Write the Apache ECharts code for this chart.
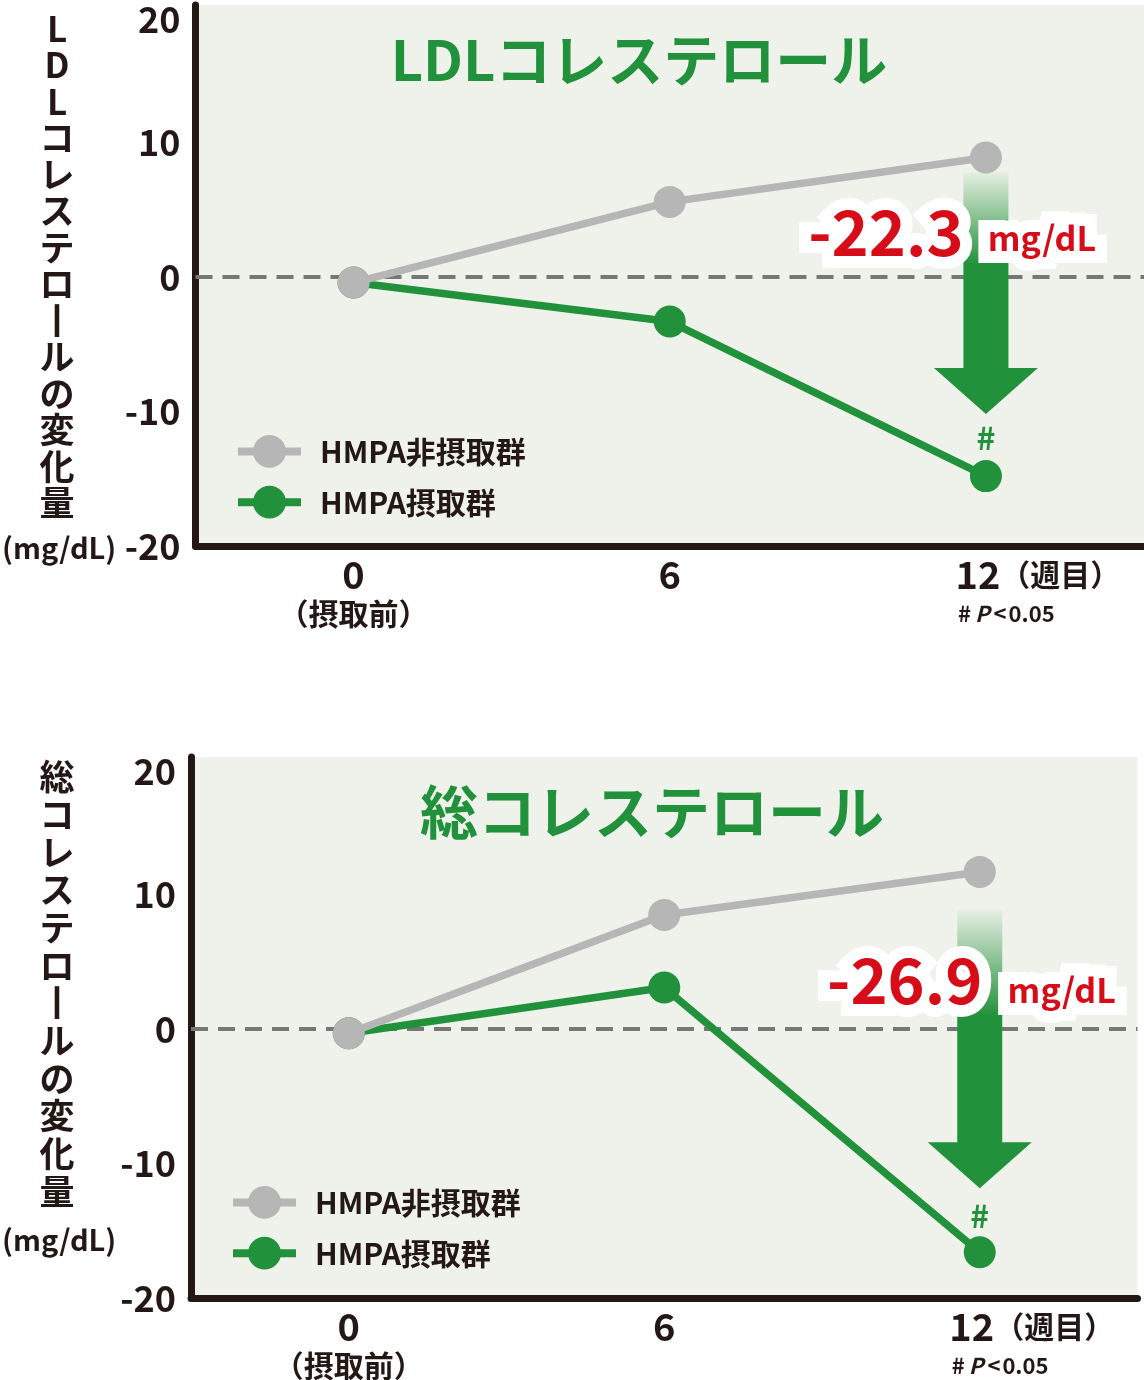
<!DOCTYPE html>
<html>
<head>
<meta charset="utf-8">
<script src="https://cdn.jsdelivr.net/npm/echarts@6/dist/echarts.min.js"></script>
<style>
  html, body { margin: 0; padding: 0; background: #fff; }
  #main { width: 1144px; height: 1380px; }
</style>
</head>
<body>
<div id="main"></div>
<script>
// データ
const weeks = [0, 6, 12];
const ldlNonIntake = [-0.4, 5.6, 8.9];
const ldlIntake = [-0.4, -3.3, -14.8];
const tcNonIntake = [-0.3, 8.5, 11.7];
const tcIntake = [-0.3, 3.1, -16.6];
const seriesNames = ['HMPA非摂取群', 'HMPA摂取群'];
const panelTitles = ['LDLコレステロール', '総コレステロール'];
const yNames = ['LDLコレステロ丨ルの変化量', '総コレステロ丨ルの変化量'];
const diffLabels = ['-22.3', '-26.9'];
const unitLabel = 'mg/dL';
const yUnit = '(mg/dL)';
const xSubLabels = { 0: '（摂取前）', 12: '（週目）' };

const DARK = '#231815';
const GREEN = '#22913b';
const GRAY = '#b5b6b5';
const RED = '#d70c19';
const FONT = '"Noto Sans CJK JP", "Noto Sans", sans-serif';

// レイアウト
const grids = [
  { left: 195.5, top: 5, width: 948.5, height: 541 },
  { left: 191, top: 757, width: 946.5, height: 541 }
];
const panels = [
  { non: ldlNonIntake, hmpa: ldlIntake, legendLeft: 234, legendTop: 435, titleX: 639, titleY: 60, titleSize: 56,
    yNameTop: 10, yNameLh: 36.5, unitY: 548,
    arrowTop: 15, tipGap: 62, diffDx: -100, diffDy: -45, unitDx: 56, unitDy: -39, hashDy: -38 },
  { non: tcNonIntake, hmpa: tcIntake, legendLeft: 229, legendTop: 1186, titleX: 652, titleY: 812, titleSize: 58,
    yNameTop: 758, yNameLh: 37.7, unitY: 1240,
    arrowTop: 38, tipGap: 64, diffDx: -75, diffDy: -49, unitDx: 82, unitDy: -39, hashDy: -36 }
];

function pairs(arr) {
  return weeks.map((w, i) => [w, arr[i]]);
}

const option = {
  animation: false,
  textStyle: { fontFamily: FONT },
  grid: grids.map(g => Object.assign({ show: true, backgroundColor: '#eff2ea', borderWidth: 0, outerBoundsMode: 'none', containLabel: false }, g)),
  xAxis: grids.map((g, i) => ({
    type: 'value', gridIndex: i, min: -3, max: 15, interval: 3,
    axisLine: { show: true, onZero: false, lineStyle: { color: DARK, width: 7 } },
    axisTick: { show: false },
    splitLine: { show: false },
    axisLabel: {
      margin: 9,
      color: DARK,
      fontFamily: FONT,
      formatter: function (v) {
        if (v === 0) return '{n|0}\n{s|' + xSubLabels[0] + '}';
        if (v === 6) return '{n|6}';
        if (v === 12) return '{sp|}{n|12}{s|' + xSubLabels[12] + '}';
        return '';
      },
      rich: {
        n: { fontSize: 38, fontWeight: 'bold', lineHeight: 40, color: DARK, fontFamily: FONT },
        s: { fontSize: 30, fontWeight: 'bold', lineHeight: 38, color: DARK, fontFamily: FONT },
        sp: { width: 104 }
      }
    }
  })),
  yAxis: grids.map((g, i) => ({
    type: 'value', gridIndex: i, min: -20, max: 20.25, interval: 10,
    axisLine: { show: true, onZero: false, lineStyle: { color: DARK, width: 7 } },
    axisTick: { show: false },
    splitLine: { show: false },
    axisLabel: {
      margin: 15,
      color: DARK,
      fontSize: 36,
      fontWeight: 'bold',
      fontFamily: FONT,
      formatter: function (v) {
        if (Math.abs(v - 20) < 1e-6) return '{t|20}';
        return Math.abs(v % 10) < 1e-6 ? String(v) : '';
      },
      rich: {
        t: { fontSize: 36, fontWeight: 'bold', color: DARK, fontFamily: FONT, padding: [22, 0, 0, 0] }
      }
    }
  })),
  legend: panels.map(p => ({
    left: p.legendLeft, top: p.legendTop, orient: 'vertical', padding: 0,
    itemWidth: 63, itemHeight: 41, itemGap: 18,
    selectedMode: false,
    data: seriesNames,
    lineStyle: { width: 8 },
    textStyle: { fontSize: 30, fontWeight: 'bold', color: DARK, fontFamily: FONT, padding: [0, 0, 0, 14] }
  })),
  series: []
};

panels.forEach((p, i) => {
  option.series.push({
    name: seriesNames[1], type: 'line', xAxisIndex: i, yAxisIndex: i,
    data: pairs(p.hmpa), symbol: 'circle', symbolSize: 32,
    lineStyle: { color: GREEN, width: 7.5 }, itemStyle: { color: GREEN },
    emphasis: { disabled: true }, z: 3
  });
  option.series.push({
    name: seriesNames[0], type: 'line', xAxisIndex: i, yAxisIndex: i,
    data: pairs(p.non), symbol: 'circle', symbolSize: 32,
    lineStyle: { color: GRAY, width: 7.5 }, itemStyle: { color: GRAY },
    emphasis: { disabled: true }, z: 4,
    markLine: {
      silent: true, symbol: ['none', 'none'], label: { show: false },
      lineStyle: { color: '#777', width: 4, type: [17, 10] },
      data: [{ yAxis: 0 }], z: 1
    }
  });
});

const chartDom = document.getElementById('main');
const myChart = echarts.init(chartDom);
myChart.setOption(option);

// 注釈（矢印・差分・タイトル）
const graphics = [];
panels.forEach((p, i) => {
  const gi = { gridIndex: i };
  const nonPt = myChart.convertToPixel(gi, [weeks[2], p.non[2]]);
  const hmpaPt = myChart.convertToPixel(gi, [weeks[2], p.hmpa[2]]);
  const zeroPt = myChart.convertToPixel(gi, [weeks[2], 0]);
  const axisPt = myChart.convertToPixel(gi, [weeks[2], -20]);
  const x = nonPt[0];
  const top = nonPt[1] + p.arrowTop;
  const tip = hmpaPt[1] - p.tipGap;
  const sw = 22.5, hw = 52, hh = 46;

  graphics.push({
    type: 'polygon', z: 100,
    shape: { points: [[x - sw, top], [x + sw, top], [x + sw, tip - hh], [x + hw, tip - hh], [x, tip], [x - hw, tip - hh], [x - sw, tip - hh]] },
    style: {
      fill: new echarts.graphic.LinearGradient(0, 0, 0, 1, [
        { offset: 0, color: 'rgba(34,145,59,0.04)' },
        { offset: 0.38, color: 'rgba(34,145,59,1)' },
        { offset: 1, color: 'rgba(34,145,59,1)' }
      ])
    }
  });
  graphics.push({
    type: 'text', z: 101, x: x + p.diffDx, y: zeroPt[1] + p.diffDy,
    style: { text: diffLabels[i], fill: RED, font: 'bold 63px ' + FONT, textAlign: 'center', textVerticalAlign: 'middle',
      stroke: '#fff', lineWidth: 24, lineJoin: 'round' }
  });
  graphics.push({
    type: 'text', z: 101, x: x + p.unitDx, y: zeroPt[1] + p.unitDy,
    style: { text: unitLabel, fill: RED, font: 'bold 34px ' + FONT, textAlign: 'center', textVerticalAlign: 'middle',
      stroke: '#fff', lineWidth: 24, lineJoin: 'round' }
  });
  graphics.push({
    type: 'text', z: 101, x: hmpaPt[0], y: hmpaPt[1] + p.hashDy,
    style: { text: '#', fill: GREEN, font: 'bold 32px ' + FONT, textAlign: 'center', textVerticalAlign: 'middle' }
  });
  // #P<0.05
  graphics.push({
    type: 'text', z: 101, x: x - 28, y: axisPt[1] + 68,
    style: {
      text: '{a|#}{p|P}{a|<}{a|0.05}', textAlign: 'left', textVerticalAlign: 'middle',
      rich: {
        a: { fontSize: 22, fontWeight: 'bold', fill: DARK, fontFamily: FONT, padding: [0, 2, 0, 0] },
        p: { fontSize: 22, fontWeight: 'bold', fontStyle: 'italic', fill: DARK, fontFamily: FONT, padding: [0, 4, 0, 2] }
      }
    }
  });
  // パネルタイトル
  graphics.push({
    type: 'text', z: 101, x: p.titleX, y: p.titleY,
    style: { text: panelTitles[i], fill: GREEN, font: 'bold ' + p.titleSize + 'px ' + FONT, textAlign: 'center', textVerticalAlign: 'middle' }
  });
  // 縦書きの軸名
  graphics.push({
    type: 'text', z: 101, x: 57, y: p.yNameTop,
    style: { text: yNames[i].split('').join('\n'), fill: DARK, font: 'bold 35px ' + FONT, lineHeight: p.yNameLh,
      textAlign: 'center', textVerticalAlign: 'top' }
  });
  graphics.push({
    type: 'text', z: 101, x: 2, y: p.unitY,
    style: { text: yUnit, fill: DARK, font: 'bold 29px ' + FONT, textAlign: 'left', textVerticalAlign: 'middle' }
  });
});

myChart.setOption({ graphic: graphics });
</script>
</body>
</html>
